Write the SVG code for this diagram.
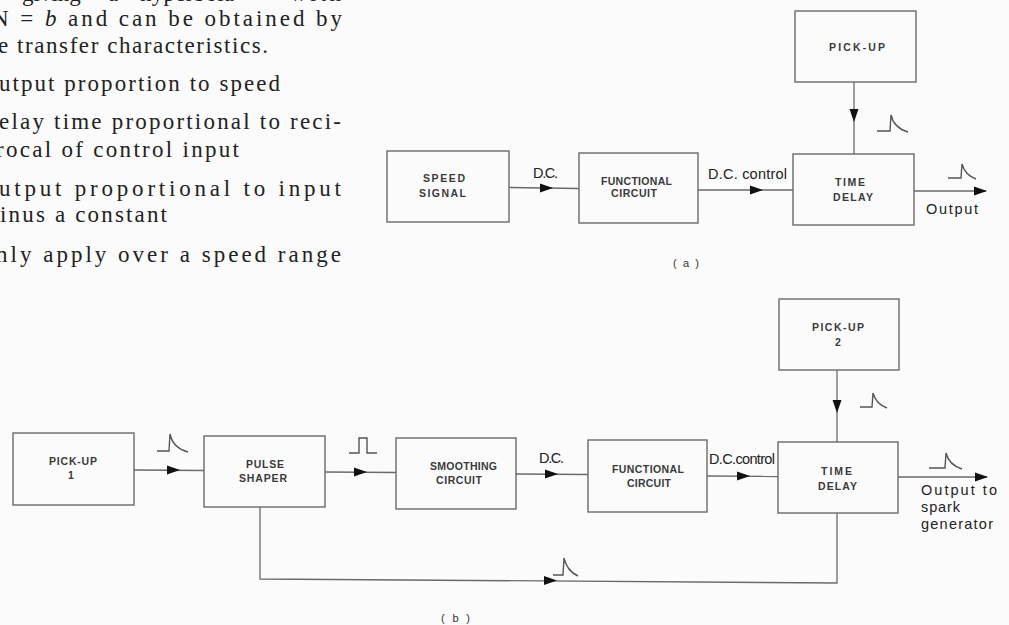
<svg xmlns="http://www.w3.org/2000/svg" xmlns:xlink="http://www.w3.org/1999/xlink" width="1009" height="625" viewBox="0 0 1009 625">
<style>
.bg{fill:#fbfbfb}
.box{fill:none;stroke:#6a6a6a;stroke-width:1.4}
.ln{fill:none;stroke:#6a6a6a;stroke-width:1.3}
.pl{fill:none;stroke:#555;stroke-width:1.4}
.bl{font-family:"Liberation Sans",Arial,sans-serif;font-size:10.5px;font-weight:bold;fill:#3a3a3a}
.cl{font-family:"Liberation Sans",Arial,sans-serif;font-size:14.5px;fill:#222}
.tx{font-family:"Liberation Serif","Times New Roman",serif;font-size:23px;fill:#222}
.cap{font-family:"Liberation Sans",Arial,sans-serif;font-size:11px;fill:#333}
</style>
<defs>
<path id="ah" d="M0,0 L-13,-4.5 L-13,4.5 Z" fill="#111"/>
</defs>
<rect class="bg" x="0" y="0" width="1009" height="625"/>

<g id="prose">
<text class="tx" y="0.5"><tspan x="22">giving</tspan><tspan x="108">a</tspan><tspan x="140" textLength="94">hyperbola</tspan><tspan x="290" textLength="51">with</tspan></text>
<text class="tx" x="-8" y="26" textLength="350">N = <tspan font-style="italic">b</tspan> and can be obtained by</text>
<text class="tx" x="-2" y="53" textLength="270">e transfer characteristics.</text>
<text class="tx" x="-1" y="91" textLength="281">utput proportion to speed</text>
<text class="tx" x="-1" y="129" textLength="342">elay time proportional to reci-</text>
<text class="tx" x="-4" y="157" textLength="243">rocal of control input</text>
<text class="tx" x="-1" y="196" textLength="342">utput proportional to input</text>
<text class="tx" x="0" y="222" textLength="167">inus a constant</text>
<text class="tx" x="-4" y="262" textLength="345">nly apply over a speed range</text>
</g>

<g id="connectors">
<!-- (a) -->
<path class="ln" d="M509,187.5 L579,188.5"/>
<use xlink:href="#ah" href="#ah" transform="translate(553,188)"/>
<path class="ln" d="M698,190 L793,190"/>
<use xlink:href="#ah" href="#ah" transform="translate(763,190)"/>
<path class="ln" d="M854,82 L854,154"/>
<use xlink:href="#ah" href="#ah" transform="translate(854,122) rotate(90)"/>
<path class="ln" d="M914,191 L986,191"/>
<use xlink:href="#ah" href="#ah" transform="translate(987,191)"/>
<!-- (b) -->
<path class="ln" d="M134,470 L204,470.5"/>
<use xlink:href="#ah" href="#ah" transform="translate(180,470)"/>
<path class="ln" d="M325,472 L396,472.5"/>
<use xlink:href="#ah" href="#ah" transform="translate(367,472)"/>
<path class="ln" d="M516,474 L588,474.5"/>
<use xlink:href="#ah" href="#ah" transform="translate(558,474)"/>
<path class="ln" d="M707,476 L778,476.5"/>
<use xlink:href="#ah" href="#ah" transform="translate(750,476)"/>
<path class="ln" d="M837,370 L837,442"/>
<use xlink:href="#ah" href="#ah" transform="translate(837,413) rotate(90)"/>
<path class="ln" d="M898,477 L987,477"/>
<use xlink:href="#ah" href="#ah" transform="translate(988,477)"/>
<path class="ln" d="M260,507 L260,579 L837,583 L837,513"/>
<use xlink:href="#ah" href="#ah" transform="translate(557,580.5)"/>

<!-- waveforms -->
<path class="pl" d="M877,131 H890 L891,115 Q894,128 908,132"/>
<path class="pl" d="M948,178 H961 L962,164 Q965,175 976,179"/>
<path class="pl" d="M157,451 H169 L170,434 Q173,448 188,452"/>
<path class="pl" d="M349,453 H359 V438 H367 V453 H377"/>
<path class="pl" d="M860,407 H872 L873,393 Q876,404 887,408"/>
<path class="pl" d="M929,468 H945 L946,453 Q949,465 962,469"/>
<path class="pl" d="M553,575 H563 L564,558 Q567,571 578,576"/>

<!-- connector labels -->
<text class="cl" x="533" y="178" textLength="25">D.C.</text>
<text class="cl" x="708" y="179" textLength="79">D.C. control</text>
<text class="cl" x="926" y="214" textLength="52">Output</text>
<text class="cl" x="539" y="463" textLength="25">D.C.</text>
<text class="cl" x="709" y="464" textLength="66">D.C.control</text>
<text class="cl" x="921" y="495" textLength="76">Output to</text>
<text class="cl" x="921" y="512" textLength="39">spark</text>
<text class="cl" x="921" y="529" textLength="72">generator</text>
</g>

<g id="speed-signal">
<rect class="box" x="387" y="151" width="122" height="71"/>
<text class="bl" x="423" y="182" textLength="42">SPEED</text>
<text class="bl" x="419" y="197" textLength="47">SIGNAL</text>
</g>
<g id="functional-a">
<rect class="box" x="579" y="153" width="119" height="70"/>
<text class="bl" x="601" y="185" textLength="71">FUNCTIONAL</text>
<text class="bl" x="611" y="197" textLength="46">CIRCUIT</text>
</g>
<g id="time-delay-a">
<rect class="box" x="793" y="154" width="121" height="71"/>
<text class="bl" x="835" y="186" textLength="30">TIME</text>
<text class="bl" x="833" y="201" textLength="40">DELAY</text>
</g>
<g id="pickup-a">
<rect class="box" x="795" y="11" width="121" height="71"/>
<text class="bl" x="829" y="51" textLength="56">PICK-UP</text>
</g>
<text class="cap" x="673" y="267" textLength="26">( a )</text>

<g id="pickup-1">
<rect class="box" x="13" y="433" width="121" height="72"/>
<text class="bl" x="49" y="465" textLength="48">PICK-UP</text>
<text class="bl" x="68" y="479">1</text>
</g>
<g id="pulse-shaper">
<rect class="box" x="204" y="436" width="121" height="71"/>
<text class="bl" x="246" y="468" textLength="38">PULSE</text>
<text class="bl" x="239" y="482" textLength="48">SHAPER</text>
</g>
<g id="smoothing">
<rect class="box" x="396" y="438" width="120" height="71"/>
<text class="bl" x="430" y="470" textLength="67">SMOOTHING</text>
<text class="bl" x="436" y="484" textLength="46">CIRCUIT</text>
</g>
<g id="functional-b">
<rect class="box" x="588" y="440" width="119" height="72"/>
<text class="bl" x="612" y="473" textLength="72">FUNCTIONAL</text>
<text class="bl" x="627" y="487" textLength="44">CIRCUIT</text>
</g>
<g id="pickup-2">
<rect class="box" x="779" y="299" width="120" height="71"/>
<text class="bl" x="812" y="331" textLength="52">PICK-UP</text>
<text class="bl" x="835" y="346">2</text>
</g>
<g id="time-delay-b">
<rect class="box" x="778" y="442" width="120" height="71"/>
<text class="bl" x="821" y="475" textLength="31">TIME</text>
<text class="bl" x="818" y="490" textLength="39">DELAY</text>
</g>
<text class="cap" x="441" y="622" textLength="29">( b )</text>
</svg>
